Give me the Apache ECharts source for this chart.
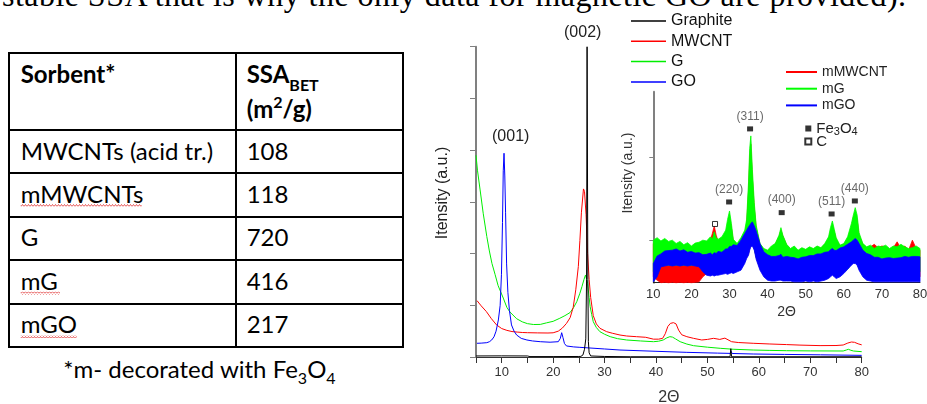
<!DOCTYPE html>
<html><head><meta charset="utf-8">
<script src="https://cdn.jsdelivr.net/npm/echarts@6/dist/echarts.min.js"></script>
<style>
html,body{margin:0;padding:0;background:#fff;width:927px;height:404px;overflow:hidden}
#left{position:absolute;left:0;top:0}
#chart{position:absolute;left:0;top:0;width:927px;height:404px}
</style></head><body>
<svg id="left" width="927" height="404" xmlns="http://www.w3.org/2000/svg">
  <defs>
    <pattern id="wave" width="3" height="3" patternUnits="userSpaceOnUse">
      <path d="M0 2.5 L1.5 0.5 L3 2.5" fill="none" stroke="#e03030" stroke-width="0.8"/>
    </pattern>
  </defs>
  <text x="2" y="6" font-family="Liberation Serif, Times New Roman, serif" font-size="32" fill="#000" textLength="904" lengthAdjust="spacing">stable SSA that is why the only data for magnetic GO are provided).</text>
  <g fill="#000">
    <rect x="8" y="52" width="396" height="2"/>
    <rect x="8" y="129" width="396" height="2"/>
    <rect x="8" y="172" width="396" height="2"/>
    <rect x="8" y="216" width="396" height="2"/>
    <rect x="8" y="259" width="396" height="2"/>
    <rect x="8" y="303" width="396" height="2"/>
    <rect x="8" y="346" width="396" height="2"/>
    <rect x="8" y="52" width="2" height="296"/>
    <rect x="235" y="52" width="2" height="296"/>
    <rect x="402" y="52" width="2" height="296"/>
  </g>
  <g font-family="Lato, Noto Sans, sans-serif" font-size="24" fill="#000">
    <text x="20.7" y="83.3" font-weight="bold">Sorbent*</text>
    <text x="246.7" y="83.3" font-weight="bold">SSA<tspan font-size="16" dy="7.4">BET</tspan></text>
    <text x="246.7" y="118.3" font-weight="bold">(m<tspan font-size="16" dy="-10">2</tspan><tspan dy="10">/g)</tspan></text>
    <text x="20.7" y="160">MWCNTs (acid tr.)</text>
    <text x="246.7" y="160">108</text>
    <text x="20.7" y="203.3">mMWCNTs</text>
    <text x="246.7" y="203.3">118</text>
    <text x="20.7" y="246">G</text>
    <text x="246.7" y="246">720</text>
    <text x="20.7" y="290">mG</text>
    <text x="246.7" y="290">416</text>
    <text x="20.7" y="333.3">mGO</text>
    <text x="246.7" y="333.3">217</text>
    <text x="63.3" y="378.3">*m- decorated with Fe<tspan font-size="16" dy="5.7">3</tspan><tspan dy="-5.7">O</tspan><tspan font-size="16" dy="5.7">4</tspan></text>
  </g>
  <rect x="20.7" y="204" width="121" height="3" fill="url(#wave)"/>
  <rect x="20.7" y="291.7" width="39.3" height="3" fill="url(#wave)"/>
  <rect x="20.7" y="335" width="56" height="3" fill="url(#wave)"/>
</svg>
<div id="chart"></div>
<script>
// ---------- main XRD patterns: [2theta, intensity (a.u.)] ----------
const GRAPHITE = [[5,20],[10,22],[15,20],[15.5,8],[20,8],[25,10],[25.4,12],[25.8,40],[26.1,150],[26.35,350],[26.5,1500],[26.6,6000],[26.68,6000],[26.75,1500],[26.85,300],[27.0,80],[27.3,20],[30,10],[35,5],[54.4,5],[54.55,160],[54.7,5],[80,5]];
const MWCNT = [[5.2,1090],[6,990],[7,880],[8,740],[9,620],[10,550],[11,515],[12,492],[13,482],[14,474],[15,470],[17,466],[19,464],[20,468],[21,500],[21.8,560],[22.6,650],[23.3,760],[23.9,960],[24.4,1300],[24.9,1750],[25.2,2250],[25.5,2800],[25.9,3250],[26.1,3200],[26.4,2750],[26.7,2000],[27,1500],[27.3,1150],[27.8,800],[28.4,640],[29.1,555],[30.4,490],[31.5,460],[33,425],[34.3,406],[36.2,393],[38,381],[39.5,345],[40.5,345],[41.3,361],[41.8,450],[42.3,590],[42.8,650],[43.4,664],[43.9,640],[44.4,520],[45,430],[46,393],[47.3,361],[48.9,329],[50,340],[51.2,361],[52.4,340],[53.4,365],[54.7,296],[56,280],[58.9,265],[62,252],[65.4,240],[68,230],[71.9,220],[75,222],[76.4,232],[77.3,270],[78,290],[78.6,284],[79.3,255],[80,235]];
const G_DATA = [[5.0,3900],[5.3,3600],[5.8,3230],[6.4,2780],[7.1,2330],[7.6,2050],[8.1,1810],[8.7,1600],[9.3,1380],[10.3,1140],[11.0,960],[11.6,870],[12.9,740],[14,680],[15,645],[16.2,628],[17.5,630],[18.7,660],[20,690],[21.3,749],[22.3,800],[23.3,860],[24.0,960],[24.6,1070],[25.2,1232],[25.6,1360],[26.0,1500],[26.3,1586],[26.5,1550],[26.7,1426],[27,1150],[27.2,973],[27.5,820],[27.8,683],[28.4,570],[29.1,489],[30,440],[31.1,393],[32.5,355],[34.3,329],[37,310],[39.5,296],[40.5,305],[41.4,329],[42.1,370],[42.7,393],[43.2,385],[43.8,350],[44.7,296],[46,250],[47.3,219],[50,190],[52.5,168],[55,150],[58.9,135],[62,128],[65.4,122],[70,118],[76.4,116],[77,135],[77.4,149],[77.9,130],[78.4,116],[80,103]];
const GO_DATA = [[5.2,265],[6,268],[7.1,277],[7.6,295],[8.05,329],[8.5,390],[8.9,500],[9.35,716],[9.7,1000],[9.95,1600],[10.15,2600],[10.3,3600],[10.45,3940],[10.6,3500],[10.75,2800],[10.95,1800],[11.2,1250],[11.5,900],[11.9,620],[12.4,500],[12.9,425],[13.8,360],[14.9,329],[16,310],[17.5,296],[19.4,286],[21,296],[21.4,360],[21.66,470],[21.9,380],[22.2,260],[22.6,213],[24,195],[25.2,187],[27,175],[30,155],[33,135],[40,110],[46,90],[52,75],[54.4,70],[54.6,110],[54.8,68],[58.9,58],[65,50],[72,42],[80,32]];

// ---------- inset (magnetic samples): noisy bands, lower/upper envelopes ----------
const INSET_X = [10,11,12,13,14,15,16,17,18,19,20,21,22,23,24,25,25.5,26,26.5,27,28,29,29.5,30,30.5,31,32,33,34,34.5,35,35.3,35.6,36,36.5,37,38,39,40,41,42,43,43.5,44,45,46,47,48,49,50,51,52,53,54,55,56,56.5,57,57.5,58,59,60,61,62,62.5,63,63.5,64,65,66,67,68,69,70,71,72,73,74,75,76,77,78,79,80];
const MMWCNT_UPPER = [960,990,960,990,950,970,930,950,920,940, 910,930,950,960,970,1000,1080,1170,1060,990, 1000,1080,1180,1280,1150,990,940,1000,1080,1200, 1600,2000,2150,1750,1400,1150,950,890,870,910, 950,1040,1120,1050,940,890,910,870,900,880, 910,890,920,900,950,1010,1100,1180,1100,1010, 930,950,1010,1150,1270,1330,1250,1060,950,910, 920,950,910,930,920,890,910,980,900,930, 880,1000,900,880];
const MMWCNT_LOWER = [560,520,490,495,490,495,490,495,490,495, 490,495,500,560,600,620,620,620,620,620, 620,620,620,620,620,620,640,660,740,800, 840,900,940,950,900,790,660,580,560,560, 560,560,560,560,560,560,560,560,560,560, 560,560,560,560,560,560,580,600,580,560, 580,620,670,720,740,740,720,660,580,560, 560,560,560,560,560,560,560,560,560,560, 560,560,560,560];
const MG_UPPER = [1000,1030,990,1020,985,1000,960,985,945,970, 930,965,975,1000,990,1040,1010,1100,1030,1010, 1040,1120,1250,1350,1200,1010,960,1030,1120,1250, 1700,2100,2250,1850,1450,1180,960,900,880,930, 960,1060,1150,1060,950,900,930,880,910,890, 920,900,930,910,960,1040,1150,1230,1130,1030, 940,960,1040,1200,1300,1390,1300,1090,960,920, 940,900,930,920,940,900,930,920,950,920, 900,910,930,900];
const MG_LOWER = [620,700,700,700,700,700,700,700,700,700, 700,700,700,700,700,700,700,700,700,700, 700,700,700,700,700,700,700,700,780,820, 880,950,980,980,900,800,700,620,620,620, 620,620,620,620,620,620,620,620,620,620, 620,620,620,620,620,620,620,640,620,620, 620,620,650,720,740,740,720,660,620,620, 620,620,620,620,620,620,620,620,620,620, 620,620,620,620];
const MGO_UPPER = [720,810,835,870,875,880,895,870,885,855, 865,845,850,825,830,845,825,850,840,865, 855,895,895,925,925,945,935,1000,1080,1120, 1160,1180,1200,1220,1170,1110,960,860,825,805, 805,815,830,795,805,795,790,775,795,800, 815,815,835,835,855,860,885,900,880,875, 905,920,950,980,1000,1020,1000,960,880,840, 825,795,795,775,785,790,780,785,790,805, 795,805,805,800];
const MGO_LOWER = [500,560,680,690,700,690,700,690,700,690, 700,690,680,620,580,570,580,570,580,580, 590,600,590,600,610,600,620,640,720,780, 820,880,920,930,880,770,640,560,520,510, 510,520,520,510,510,510,500,500,500,510, 500,510,500,510,520,540,560,580,560,540, 560,600,650,700,720,720,700,640,560,520, 510,500,500,500,500,500,500,500,500,500, 500,500,500,500];
const INSET_YTICKS = [1000, 2000];

// reflections: [2theta, marker height, label]
const FE3O4_PEAKS = [[29.9,1458,'(220)'],[35.4,2334,'(311)'],[43.7,1330,'(400)'],[56.8,1314,'(511)'],[62.9,1470,'(440)']];
const C_PEAKS = [[26.2,1194]];

const FONT = 'Liberation Sans, Arial, sans-serif';
const chart = echarts.init(document.getElementById('chart'), null, {renderer:'canvas'});

function band(name, color, lower, upper) {
  return {
    type:'custom', name, xAxisIndex:1, yAxisIndex:1, silent:true,
    itemStyle:{color},
    data: INSET_X.map((x,i)=>[x, lower[i], upper[i]]),
    encode:{x:0, y:[1,2]},
    renderItem:(params, api)=>{
      if (params.dataIndex !== 0) return null;
      const pts = [];
      for (let i=0;i<INSET_X.length;i++) pts.push(api.coord([INSET_X[i], upper[i]]));
      for (let i=INSET_X.length-1;i>=0;i--) pts.push(api.coord([INSET_X[i], lower[i]]));
      return {type:'polygon', shape:{points:pts}, style:{fill:color, stroke:color, lineWidth:0.8}};
    }
  };
}
function line(name, color, data, z) {
  return {type:'line', name, data, xAxisIndex:0, yAxisIndex:0, showSymbol:false, symbol:'none',
    lineStyle:{color, width:1}, itemStyle:{color}, z, silent:true};
}

chart.setOption({
  animation:false,
  backgroundColor:'transparent',
  textStyle:{fontFamily:FONT},
  grid:[
    {left:476, top:46.7, width:385.7, height:310.3, outerBoundsMode:'none', containLabel:false},
    {left:653.3, top:91.7, width:266.7, height:191, outerBoundsMode:'none', containLabel:false}
  ],
  xAxis:[
    {gridIndex:0, type:'value', min:5, max:80, interval:5,
     axisLine:{show:true, onZero:false, lineStyle:{color:'#333', width:1}},
     axisTick:{show:true, length:6, lineStyle:{color:'#333'}},
     axisLabel:{margin:9, fontSize:13, color:'#333', formatter:v=> v%10===0 ? String(v) : ''},
     splitLine:{show:false},
     name:'2Θ', nameLocation:'middle', nameGap:33, nameTextStyle:{fontSize:16, color:'#333'}},
    {gridIndex:1, type:'value', min:10, max:80, interval:10,
     axisLine:{show:true, onZero:false, lineStyle:{color:'#222', width:1}},
     axisTick:{show:false},
     axisLabel:{margin:5, fontSize:13, color:'#333'},
     splitLine:{show:false},
     name:'2Θ', nameLocation:'middle', nameGap:22, nameTextStyle:{fontSize:14, color:'#333'}}
  ],
  yAxis:[
    {gridIndex:0, type:'value', min:0, max:6000, interval:1000,
     axisLine:{show:true, onZero:false, lineStyle:{color:'#808080', width:2}},
     axisTick:{show:true, length:6, lineStyle:{color:'#808080'}},
     axisLabel:{show:false}, splitLine:{show:false}},
    {gridIndex:1, type:'value', min:490, max:2780,
     axisLine:{show:true, onZero:false, lineStyle:{color:'#808080', width:2}},
     axisTick:{show:true, length:4, customValues:INSET_YTICKS, lineStyle:{color:'#808080'}},
     axisLabel:{show:false, customValues:INSET_YTICKS}, splitLine:{show:false}}
  ],
  legend:[
    {data:['Graphite','MWCNT','G','GO'], orient:'vertical', left:631, top:13, padding:0, itemWidth:35, itemHeight:1.5,
     icon:'rect', itemGap:4.3, selectedMode:false, textStyle:{fontSize:16, lineHeight:16, color:'#111', fontFamily:FONT}},
    {data:['mMWCNT','mG','mGO'], orient:'vertical', left:786, top:65, padding:0, itemWidth:31, itemHeight:2,
     icon:'rect', itemGap:2.7, selectedMode:false, textStyle:{fontSize:14, lineHeight:14, color:'#222', fontFamily:FONT}},
    {data:['Fe3O4','C'], orient:'vertical', left:804.3, top:119.5, padding:0, itemWidth:6, itemHeight:6,
     icon:'rect', itemGap:-3.5, selectedMode:false,
     formatter:n=> n==='Fe3O4' ? '{n|Fe}{sub|3}{n|O}{sub|4}' : '{n|' + n + '}',
     textStyle:{fontSize:15, lineHeight:13, color:'#222', fontFamily:FONT,
       rich:{n:{fontSize:15, lineHeight:13, color:'#222', fontFamily:FONT},
             sub:{fontSize:11, lineHeight:13, padding:[7,0,0,0], color:'#222', fontFamily:FONT}}}}
  ],
  graphic:[
    {type:'text', x:582.7, y:33, style:{text:'(002)', font:'16px '+FONT, fill:'#222', align:'center', verticalAlign:'middle'}},
    {type:'text', x:510.7, y:136.7, style:{text:'(001)', font:'16px '+FONT, fill:'#222', align:'center', verticalAlign:'middle'}},
    {type:'text', x:443, y:193, rotation:Math.PI/2, style:{text:'Itensity (a.u.)', font:'16px '+FONT, fill:'#222', align:'center', verticalAlign:'middle'}},
    {type:'text', x:628, y:173, rotation:Math.PI/2, style:{text:'Itensity (a.u.)', font:'14px '+FONT, fill:'#333', align:'center', verticalAlign:'middle'}}
  ],
  series:[
    line('Graphite', '#000000', GRAPHITE, 6),
    line('MWCNT', '#ff0000', MWCNT, 4),
    line('G', '#00ee00', G_DATA, 3),
    line('GO', '#0000ff', GO_DATA, 5),
    band('mMWCNT', '#ff0000', MMWCNT_LOWER, MMWCNT_UPPER),
    band('mG', '#00ff00', MG_LOWER, MG_UPPER),
    band('mGO', '#0000ff', MGO_LOWER, MGO_UPPER),
    {type:'scatter', name:'Fe3O4', xAxisIndex:1, yAxisIndex:1, symbol:'rect', symbolSize:[6,5], z:5, silent:true,
     itemStyle:{color:'#000'}, data:FE3O4_PEAKS,
     label:{show:true, position:'top', distance:4, fontSize:12, color:'#444', fontFamily:FONT, formatter:p=>p.data[2]}},
    {type:'scatter', name:'C', xAxisIndex:1, yAxisIndex:1, symbol:'rect', symbolSize:[5,5], z:5, silent:true,
     itemStyle:{color:'#fff', borderColor:'#000', borderWidth:1}, data:C_PEAKS}
  ]
});
</script>
</body></html>
